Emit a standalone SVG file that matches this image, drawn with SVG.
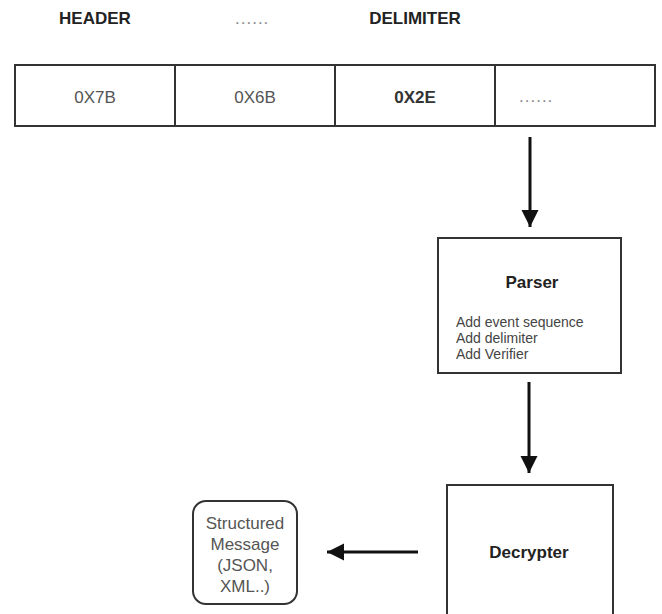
<svg xmlns="http://www.w3.org/2000/svg" width="662" height="614" viewBox="0 0 662 614">
<style>
  text { font-family: "Liberation Sans", Arial, sans-serif; }
  .lbl { font-size: 17px; font-weight: bold; fill: #222; text-anchor: middle; }
  .cell { font-size: 17px; fill: #555; text-anchor: middle; }
  .dots { font-size: 17px; fill: #888; letter-spacing: 1px; }
  .box { fill: #fff; stroke: #333; stroke-width: 2; }
  .title { font-size: 17px; font-weight: bold; fill: #222; text-anchor: middle; }
  .small { font-size: 14px; fill: #444; }
  .msg { font-size: 17px; fill: #555; text-anchor: middle; }
  .conn { stroke: #111; stroke-width: 3; fill: none; }
</style>
<defs>
  <marker id="arrow" markerUnits="userSpaceOnUse" markerWidth="18" markerHeight="18" refX="17" refY="8.5" orient="auto">
    <path d="M0,0 L17,8.5 L0,17 z" fill="#111"/>
  </marker>
</defs>
<rect width="662" height="614" fill="#fff"/>

<g id="labels">
  <text class="lbl" x="95" y="24">HEADER</text>
  <text class="dots" x="235" y="24" style="font-weight:normal">......</text>
  <text class="lbl" x="415" y="24">DELIMITER</text>
</g>

<g id="byte-row">
  <rect class="box" x="15" y="65" width="640" height="61"/>
  <line x1="175" y1="65" x2="175" y2="126" stroke="#333" stroke-width="2"/>
  <line x1="335" y1="65" x2="335" y2="126" stroke="#333" stroke-width="2"/>
  <line x1="495" y1="65" x2="495" y2="126" stroke="#333" stroke-width="2"/>
  <text class="cell" x="95" y="103">0X7B</text>
  <text class="cell" x="255" y="103">0X6B</text>
  <text class="cell" x="415" y="103" style="font-weight:bold;fill:#333">0X2E</text>
  <text class="dots" x="519" y="102">......</text>
</g>

<g id="parser">
  <rect class="box" x="438" y="238" width="183" height="135"/>
  <text class="title" x="532" y="288">Parser</text>
  <text class="small" x="456" y="327">Add event sequence</text>
  <text class="small" x="456" y="343">Add delimiter</text>
  <text class="small" x="456" y="359">Add Verifier</text>
</g>

<g id="decrypter">
  <rect class="box" x="447" y="485" width="166" height="140"/>
  <text class="title" x="529" y="558">Decrypter</text>
</g>

<g id="structured-message">
  <rect class="box" x="193" y="501" width="104" height="103" rx="13" ry="13"/>
  <text class="msg" x="245" y="529">Structured</text>
  <text class="msg" x="245" y="550">Message</text>
  <text class="msg" x="245" y="571">(JSON,</text>
  <text class="msg" x="245" y="592">XML..)</text>
</g>

<g id="connectors">
  <line class="conn" x1="530" y1="137" x2="530" y2="227" marker-end="url(#arrow)"/>
  <line class="conn" x1="529" y1="382" x2="529" y2="473" marker-end="url(#arrow)"/>
  <line class="conn" x1="418" y1="552" x2="327" y2="552" marker-end="url(#arrow)"/>
</g>
</svg>
